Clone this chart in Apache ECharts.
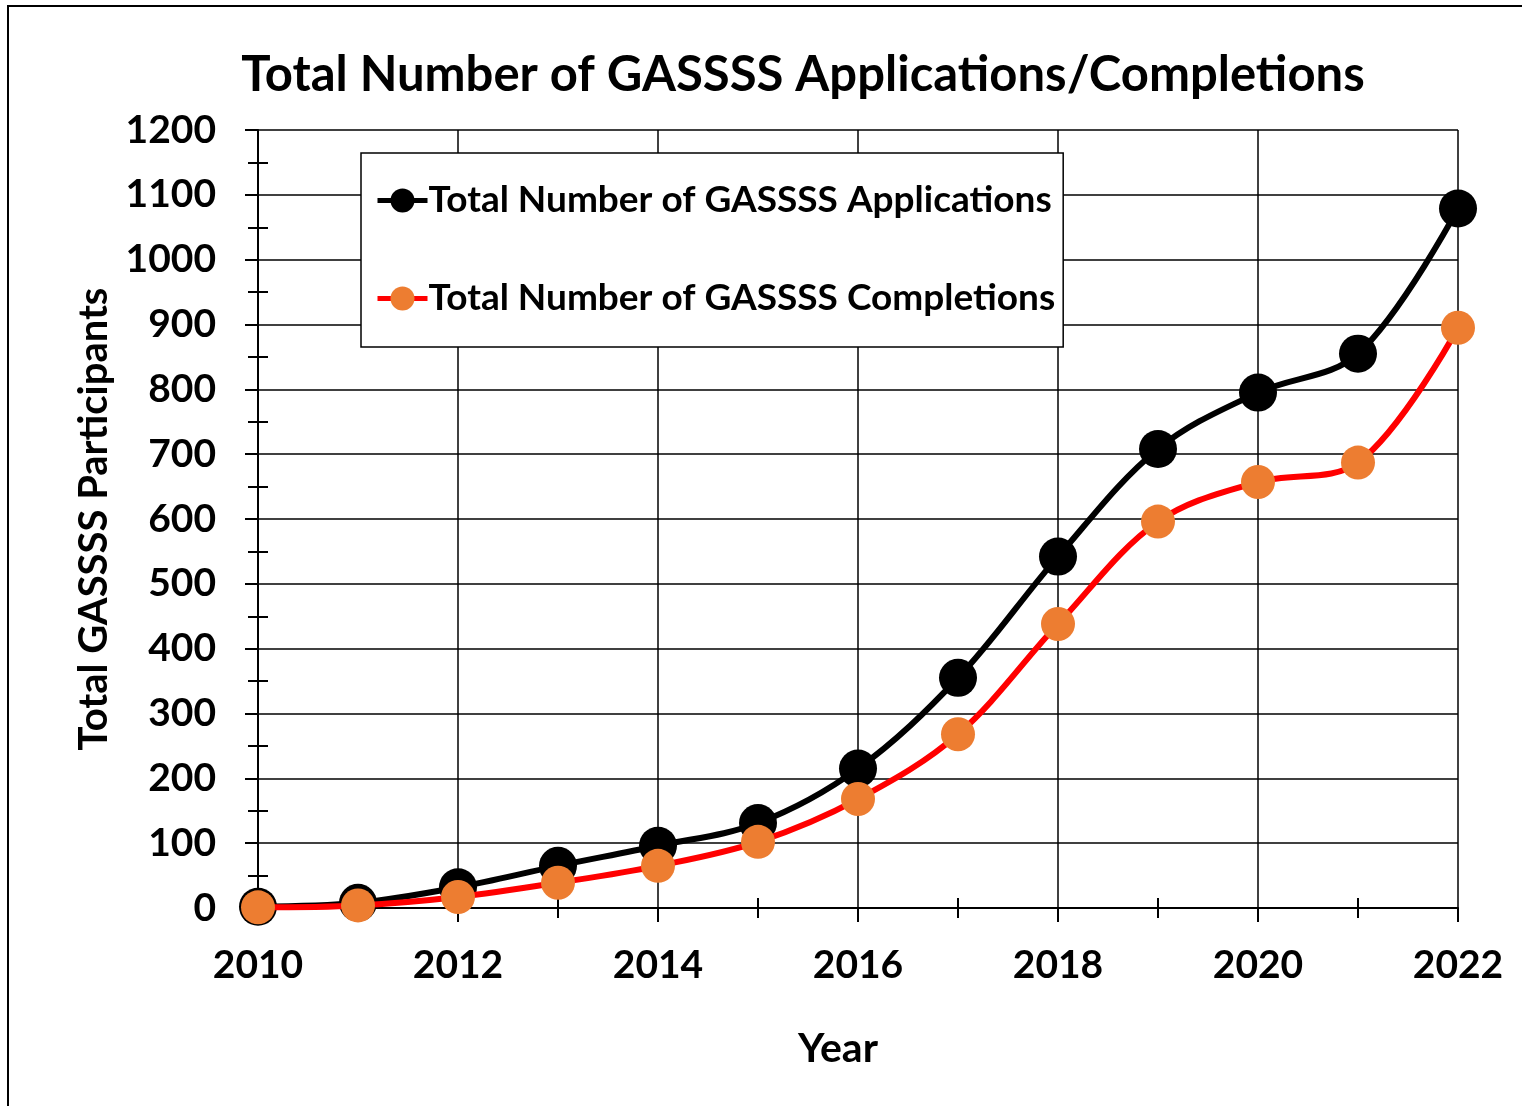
<!DOCTYPE html>
<html>
<head>
<meta charset="utf-8">
<script src="https://cdn.jsdelivr.net/npm/echarts@6/dist/echarts.min.js"></script>
<style>
  html, body { margin: 0; padding: 0; background: #fff; }
  #chart { width: 1522px; height: 1106px; }
</style>
</head>
<body>
<div id="chart"></div>
<script>
var years = [2010, 2011, 2012, 2013, 2014, 2015, 2016, 2017, 2018, 2019, 2020, 2021, 2022];
var applications = [2, 8, 32, 65, 96, 131, 215, 355, 542, 708, 795, 855, 1079];
var completions = [1, 4, 17, 39, 65, 102, 168, 268, 438, 596, 657, 687, 895];

function pairs(vals) {
  return years.map(function (y, i) { return [y, vals[i]]; });
}

var font = "Lato";
var plain = function (v) { return String(v); };

var option = {
  animation: false,
  backgroundColor: "#fff",
  textStyle: { fontFamily: font },
  graphic: [
    {
      type: "rect",
      shape: { x: 8, y: 6, width: 1700, height: 1300 },
      style: { fill: null, stroke: "#000", lineWidth: 2 },
      silent: true,
      z: -1
    }
  ],
  title: {
    text: "Total Number of GASSSS Applications/Completions",
    left: 798,
    textAlign: "center",
    top: 46,
    textStyle: { fontSize: 49, fontWeight: "bold", color: "#000", fontFamily: font }
  },
  legend: {
    orient: "vertical",
    left: 361,
    top: 153,
    padding: [29, 8, 30, 14],
    itemGap: 61,
    itemWidth: 50,
    itemHeight: 30,
    backgroundColor: "#fff",
    borderColor: "#000",
    borderWidth: 1.5,
    lineStyle: { width: 5 },
    textStyle: { fontSize: 37, fontWeight: "bold", color: "#000", fontFamily: font, padding: [0, 0, 0, -4] },
    data: ["Total Number of GASSSS Applications", "Total Number of GASSSS Completions"]
  },
  grid: { left: 258, right: 64, top: 130, bottom: 198, containLabel: false },
  xAxis: [
    {
      type: "value",
      min: 2010,
      max: 2022,
      interval: 2,
      name: "Year",
      nameLocation: "middle",
      nameGap: 120,
      nameTextStyle: { fontSize: 41, fontWeight: "bold", color: "#000", fontFamily: font, padding: [0, 40, 0, 0] },
      axisLine: { show: true, lineStyle: { color: "#000", width: 2 } },
      axisTick: { show: true, length: 14, lineStyle: { color: "#000", width: 2 } },
      minorTick: { show: true, splitNumber: 2, length: 10, lineStyle: { color: "#000", width: 2 } },
      axisLabel: { fontSize: 39, fontWeight: "bold", color: "#000", margin: 38, formatter: plain, fontFamily: font },
      splitLine: { show: true, lineStyle: { color: "#000", width: 1.5 } }
    },
    {
      type: "value",
      min: 2010,
      max: 2022,
      interval: 2,
      position: "bottom",
      axisLine: { show: false },
      axisTick: { show: false, inside: true },
      minorTick: { show: true, splitNumber: 2, length: 10, lineStyle: { color: "#000", width: 2 } },
      axisLabel: { show: false },
      splitLine: { show: false }
    }
  ],
  yAxis: [
    {
      type: "value",
      min: 0,
      max: 1200,
      interval: 100,
      name: "Total GASSSS Participants",
      nameLocation: "middle",
      nameGap: 144,
      nameTextStyle: { fontSize: 40, fontWeight: "bold", color: "#000", fontFamily: font },
      axisLine: { show: true, lineStyle: { color: "#000", width: 2 } },
      axisTick: { show: true, length: 13, lineStyle: { color: "#000", width: 2 } },
      minorTick: { show: true, splitNumber: 2, length: 10, lineStyle: { color: "#000", width: 2 } },
      axisLabel: { fontSize: 39, fontWeight: "bold", color: "#000", margin: 42, formatter: plain, fontFamily: font },
      splitLine: { show: true, lineStyle: { color: "#000", width: 1.5 } }
    },
    {
      type: "value",
      min: 0,
      max: 1200,
      interval: 100,
      position: "left",
      axisLine: { show: false },
      axisTick: { show: false, inside: true },
      minorTick: { show: true, splitNumber: 2, length: 10, lineStyle: { color: "#000", width: 2 } },
      axisLabel: { show: false },
      splitLine: { show: false }
    }
  ],
  series: [
    {
      name: "Total Number of GASSSS Applications",
      type: "line",
      smooth: 0.35,
      data: pairs(applications),
      symbol: "circle",
      symbolSize: 38,
      lineStyle: { color: "#000", width: 6 },
      itemStyle: { color: "#000" },
      z: 3
    },
    {
      name: "Total Number of GASSSS Completions",
      type: "line",
      smooth: 0.35,
      data: pairs(completions),
      symbol: "circle",
      symbolSize: 34,
      lineStyle: { color: "#ff0000", width: 6 },
      itemStyle: { color: "#ed7d31" },
      z: 4
    }
  ]
};

var myChart = echarts.init(document.getElementById("chart"));
myChart.setOption(option);
</script>
</body>
</html>
